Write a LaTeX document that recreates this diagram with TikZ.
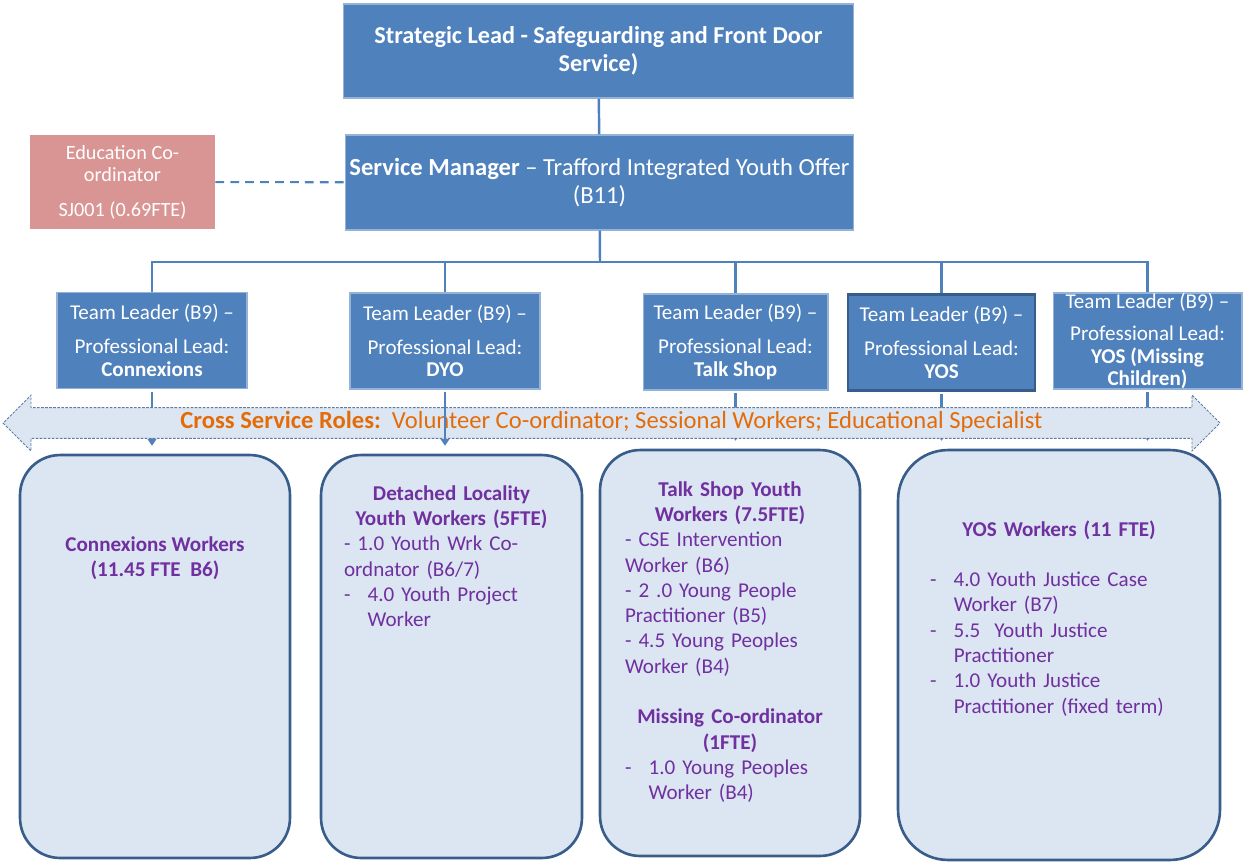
\documentclass[tikz,border=0pt]{standalone}
\usepackage{fontspec}
\setmainfont{Carlito}
\usetikzlibrary{shapes.arrows,arrows.meta}
\setlength{\parindent}{0pt}

\definecolor{boxblue}{RGB}{79,129,189}
\definecolor{edgeblue}{RGB}{149,179,215}
\definecolor{darkblue}{RGB}{56,93,138}
\definecolor{pinkfill}{RGB}{217,149,148}
\definecolor{paleblue}{RGB}{220,230,242}
\definecolor{staffpurple}{RGB}{112,48,160}
\definecolor{roleorange}{RGB}{227,108,9}

\newcommand{\bul}{\makebox[13.5pt][l]{-}}
\newcommand{\ind}{\hspace*{13.5pt}}

\begin{document}
\begin{tikzpicture}
        [x=0.02cm, y=-0.02cm,
        lead/.style={draw=edgeblue, line width=0.6pt, fill=boxblue, text=white, align=center, inner sep=0pt},
        advisor/.style={fill=pinkfill, text=white, align=center, inner sep=0pt, font=\fontsize{11.5}{13}\selectfont},
        team/.style={lead, minimum height=1.92cm, font=\fontsize{12}{12.8}\selectfont},
        staff/.style={draw=darkblue, line width=1.5pt, fill=paleblue, rounded corners=0.8cm},
        stafftext/.style={anchor=north, inner sep=0pt, text=staffpurple, font=\fontsize{12}{14.4}\selectfont},
        link/.style={boxblue, line width=1.4pt},
        sidelink/.style={boxblue, line width=1.2pt, dash pattern=on 5pt off 3.5pt},
        drop/.style={link, shorten <=1.5pt, shorten >=4.5pt, -{Triangle[width=5pt,length=4pt]}},
        roles/.style={double arrow, draw=darkblue!80, fill=paleblue, line width=0.5pt,
          dash pattern=on 1.5pt off 0.8pt, double arrow head extend=0.25cm,
          minimum height=24.34cm, minimum width=1.1cm, text height=9pt, text depth=3pt,
          inner xsep=0pt, inner ysep=2.5pt, text=roleorange, font=\fontsize{14}{16}\selectfont}]

        \useasboundingbox (0,0) rectangle (1250,866);

        \node [lead, minimum width=10.22cm, minimum height=1.88cm, font=\fontsize{13.8}{16}\selectfont\bfseries]
          (strat) at (598.5,51) {Strategic Lead - Safeguarding and Front Door\\Service)};
        \node [lead, minimum width=10.18cm, minimum height=1.9cm, font=\fontsize{14}{16}\selectfont]
          (mgr) at (599.5,182.5) {\textbf{Service Manager} -- Trafford Integrated Youth Offer\\(B11)};
        \node [advisor, minimum width=3.7cm, minimum height=1.88cm]
          (educ) at (122.5,182) {Education Co-\\ordinator\\[6.5pt]SJ001 (0.69FTE)};

        \node [team, minimum width=3.8cm] (tl1) at (152,340.5) {Team Leader (B9) --\\[6.5pt]Professional Lead:\\\textbf{Connexions}};
        \node [team, minimum width=3.8cm] (tl2) at (445,341) {Team Leader (B9) --\\[6.5pt]Professional Lead:\\\textbf{DYO}};
        \node [team, minimum width=3.7cm] (tl3) at (735.5,342) {Team Leader (B9) --\\[6.5pt]Professional Lead:\\\textbf{Talk Shop}};
        \node [team, minimum width=3.74cm, draw=darkblue, line width=1.4pt] (tl4) at (941.5,342.5) {Team Leader (B9) --\\[6.5pt]Professional Lead:\\\textbf{YOS}};
        \node [team, minimum width=3.78cm] (tl5) at (1147.5,341) {Team Leader (B9) --\\[5.5pt]Professional Lead:\\\textbf{YOS (Missing}\\\textbf{Children)}};

        \node [staff, minimum width=5.4cm, minimum height=8.06cm] (wk1) at (155,656.5) {};
        \node [staff, minimum width=5.22cm, minimum height=8.06cm] (wk2) at (451.5,656.5) {};
        \node [staff, minimum width=5.2cm, minimum height=8.12cm] (wk3) at (730,653) {};
        \node [staff, minimum width=6.44cm, minimum height=8.2cm, rounded corners=1cm] (wk4) at (1059,655) {};

        \node [stafftext, align=center, font=\fontsize{12}{14.4}\selectfont\bfseries] (wk1txt) at (155,536)
          {Connexions Workers\\(11.45 FTE\ \ B6)};
        \node [stafftext, text width=4.3cm] (wk2txt) at (451.5,485)
          {{\centering\bfseries Detached Locality\\Youth Workers (5FTE)\par}
           \raggedright - 1.0 Youth Wrk Co-\\ordnator (B6/7)\\\bul 4.0 Youth Project\\\ind Worker\par};
        \node [stafftext, text width=4.2cm] (wk3txt) at (730,481)
          {{\centering\bfseries Talk Shop Youth\\Workers (7.5FTE)\par}
           \raggedright - CSE Intervention\\Worker (B6)\\- 2 .0 Young People\\Practitioner (B5)\\- 4.5 Young Peoples\\Worker (B4)\par
           \vspace{14.4pt}
           {\centering\bfseries Missing Co-ordinator\\(1FTE)\par}
           \raggedright\bul 1.0 Young Peoples\\\ind Worker (B4)\par};
        \node [stafftext, text width=5.16cm] (wk4txt) at (1059,520)
          {{\centering\bfseries YOS Workers (11 FTE)\par}
           \vspace{14.4pt}
           \raggedright\bul 4.0 Youth Justice Case\\\ind Worker (B7)\\\bul 5.5\ \ Youth Justice\\\ind Practitioner\\\bul 1.0 Youth Justice\\\ind Practitioner (fixed term)\par};

        \coordinate (bus) at (600,262);
        \draw [link] (strat) -- (mgr);
        \draw [link] (mgr) -- (bus);
        \foreach \i in {1,...,5}
          \draw [link] (tl\i.north) |- (bus);
        \draw [sidelink] (educ) -- (mgr);

        \foreach \t/\w in {1/1,3/3,4/4,5/4}
          \draw [drop] (tl\t.south) -- (tl\t.south |- wk\w.north);

        \node [roles] (band) at (611.5,423) {\textbf{Cross Service Roles:}\ \ Volunteer Co-ordinator; Sessional Workers; Educational Specialist};

        \draw [drop] (tl2.south) -- (tl2.south |- wk2.north);
\end{tikzpicture}
\end{document}
